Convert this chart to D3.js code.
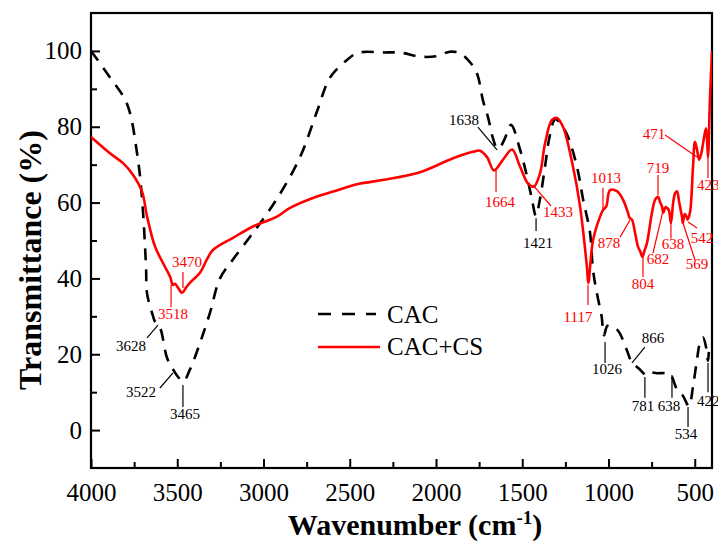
<!DOCTYPE html>
<html>
<head>
<meta charset="utf-8">
<script src="https://cdn.jsdelivr.net/npm/d3@7"></script>
<style>
  body { margin: 0; background: #fff; }
  text { font-family: "Liberation Serif", "Times New Roman", serif; }
</style>
</head>
<body>
<div id="chart"></div>
<script>
// CAC spectrum (black dashed)
const cacWavenumber = [4000, 3890, 3791, 3733, 3704, 3681, 3675, 3640, 3628, 3600, 3559, 3522, 3495, 3465, 3426, 3368, 3310, 3252, 3177, 3061, 2922, 2788, 2690, 2614, 2516, 2452, 2300, 2200, 2093, 2000, 1919, 1861, 1803, 1762, 1728, 1699, 1670, 1646, 1630, 1600, 1565, 1513, 1473, 1443, 1421, 1397, 1368, 1339, 1310, 1290, 1241, 1183, 1148, 1107, 1090, 1067, 1040, 1026, 1005, 950, 893, 866, 818, 781, 760, 719, 661, 638, 603, 568, 534, 510, 487, 470, 452, 435, 423, 415, 400];
const cacT = [100, 93, 86, 73, 61, 43, 36, 30, 28.5, 27, 19, 15.8, 14, 12.8, 16, 23, 31, 40, 45, 52, 61, 72, 84, 93, 97.6, 99.5, 99.6, 99.5, 98.5, 98.6, 99.8, 99.4, 97, 94, 87, 82.6, 77, 74.3, 74.5, 77, 80.5, 74, 67, 60.7, 56.5, 61, 69.5, 78, 82, 81.5, 78, 69.5, 61, 52, 42.3, 36, 30, 25, 27.5, 26.5, 21, 18, 16, 14.5, 15.2, 15, 15, 14.5, 10.7, 9, 6.3, 11.5, 18.6, 23, 24.4, 22, 18.3, 21, 20];

// CAC+CS spectrum (red)
const cacCsWavenumber = [4000, 3890, 3814, 3756, 3704, 3675, 3629, 3582, 3542, 3525, 3513, 3495, 3472, 3450, 3426, 3368, 3328, 3293, 3177, 3061, 2922, 2846, 2690, 2597, 2452, 2300, 2093, 1901, 1786, 1745, 1704, 1664, 1612, 1559, 1513, 1466, 1433, 1397, 1368, 1328, 1299, 1264, 1206, 1165, 1125, 1117, 1090, 1049, 1032, 1013, 991, 951, 916, 887, 878, 864, 846, 829, 815, 804, 790, 777, 748, 730, 713, 700, 690, 682, 670, 661, 650, 638, 625, 614, 603, 590, 574, 569, 558, 545, 542, 528, 510, 499, 487, 475, 462, 452, 435, 428, 423, 412, 400];
const cacCsT = [77.3, 73, 70.4, 67.3, 62.9, 56.3, 48.4, 44, 40.5, 38.3, 38.6, 37.5, 36.2, 37.5, 38.9, 41.5, 45, 47.5, 50.7, 53.7, 56.3, 58.6, 61.6, 62.9, 64.9, 66, 68, 71.7, 73.4, 73.7, 72, 68.5, 71.3, 74, 69.5, 65, 64.2, 67.7, 75.6, 81.8, 82.3, 80, 69.5, 59, 43, 38.8, 50, 56.3, 58, 59, 63.3, 63, 60.8, 57.3, 56, 55.5, 52, 48.4, 47, 45.7, 47.5, 49.3, 57.3, 60.7, 61.5, 60, 59, 57.3, 58.8, 58.6, 58, 54.6, 60, 62.5, 63, 60, 56.3, 54.6, 57, 56, 55.5, 57.3, 69.5, 76, 74, 71.3, 73, 75.6, 79.6, 76, 72, 87, 100];

const seriesNames = ["CAC", "CAC+CS"];
const xTicks = [4000, 3500, 3000, 2500, 2000, 1500, 1000, 500];
const yTicks = [0, 20, 40, 60, 80, 100];

// peak labels: text, leader line [wn, T, wn, T], label point [wn, T], anchor
const cacPeaks = [
    ["1638", [1646, 73.9, 1757, 79.9], [1838, 80.5], "middle"],
    ["1421", [1420, 55.9, 1420, 52.5], [1409, 48.0], "middle"],
    ["3628", [3612, 27.7, 3675, 24.3], [3768, 20.9], "middle"],
    ["3522", [3525, 15.1, 3600, 11.1], [3710, 8.7], "middle"],
    ["3465", [3467, 11.9, 3467, 6.1], [3455, 2.9], "middle"],
    ["1026", [1020, 23.2, 1020, 17.7], [1009, 14.8], "middle"],
    ["866", [864, 17.7, 789, 21.9], [742, 23.0], "middle"],
    ["781", [789, 14.0, 789, 8.5], [800, 5.0], "middle"],
    ["638", [632, 14.5, 632, 8.5], [649, 5.0], "middle"],
    ["534", [539, 6.1, 539, 0.8], [551, -2.3], "middle"],
    ["422", [423, 17.7, 423, 10.0], [487, 6.4], "start"]
];
const cacCsPeaks = [
    ["3470", [3467, 41.7, 3467, 37.5], [3443, 43.0], "middle"],
    ["3518", [3536, 38.3, 3536, 32.4], [3525, 29.3], "middle"],
    ["1664", [1652, 69.1, 1652, 62.8], [1629, 58.8], "middle"],
    ["1433", [1438, 64.6, 1333, 59.1], [1293, 56.2], "middle"],
    ["1117", [1119, 38.3, 1119, 33.0], [1177, 28.5], "middle"],
    ["1013", [1032, 63.9, 1032, 58.1], [1015, 65.2], "middle"],
    ["878", [875, 55.4, 933, 50.9], [997, 48.0], "middle"],
    ["804", [800, 46.7, 800, 40.4], [800, 37.2], "middle"],
    ["719", [713, 67.3, 713, 62.0], [713, 67.8], "middle"],
    ["682", [684, 57.9, 742, 46.7], [713, 43.8], "middle"],
    ["638", [638, 57.1, 638, 50.5], [626, 47.8], "middle"],
    ["569", [568, 54.6, 499, 44.9], [487, 42.5], "middle"],
    ["542", [539, 54.9, 487, 53.3], [458, 49.3], "middle"],
    ["471", [487, 72.0, 672, 77.8], [736, 76.8], "middle"],
    ["423", [423, 75.7, 423, 66.5], [487, 63.3], "start"]
];

const red = "#ff0000";
const margin = {top: 13, right: 6, bottom: 77, left: 91};
const width = 718 - margin.left - margin.right;
const height = 545 - margin.top - margin.bottom;

const svg = d3.select("#chart")
    .append("svg")
    .attr("width", 718)
    .attr("height", 545)
    .append("g")
    .attr("transform", `translate(${margin.left}, ${margin.top})`);

const x = d3.scaleLinear().domain([4000, 400]).range([0, width]);
const y = d3.scaleLinear().domain([-10, 110]).range([height, 0]);

svg.append("clipPath").attr("id", "plotClip")
    .append("rect").attr("width", width).attr("height", height);

// axes with inward ticks
svg.append("g")
    .attr("transform", `translate(0, ${height})`)
    .call(d3.axisBottom(x).tickValues(xTicks).tickFormat(d3.format("d"))
        .tickSize(-9).tickPadding(15).tickSizeOuter(0));
svg.append("g")
    .attr("transform", `translate(0, ${height})`)
    .call(d3.axisBottom(x).tickValues(d3.range(3750, 400, -500)).tickSize(-6).tickFormat("").tickSizeOuter(0));

svg.append("g")
    .call(d3.axisLeft(y).tickValues(yTicks).tickSize(-9).tickPadding(9).tickSizeOuter(0));
svg.append("g")
    .call(d3.axisLeft(y).tickValues([10, 30, 50, 70, 90]).tickSize(-6).tickFormat("").tickSizeOuter(0));

svg.selectAll(".tick line").attr("stroke", "#000").attr("stroke-width", 2);
svg.selectAll(".tick text").attr("fill", "#000").style("font-size", "25px");

// frame
svg.selectAll(".domain").remove();
svg.append("rect")
    .attr("width", width).attr("height", height)
    .attr("fill", "none").attr("stroke", "#000").attr("stroke-width", 2.2);

// curves
const line = d3.line()
    .x(d => x(d[0]))
    .y(d => y(d[1]))
    .curve(d3.curveCatmullRom.alpha(0.5));

const plot = svg.append("g").attr("clip-path", "url(#plotClip)");
plot.append("path")
    .datum(d3.zip(cacWavenumber, cacT))
    .attr("d", line)
    .attr("fill", "none").attr("stroke", "#000")
    .attr("stroke-width", 2.6).attr("stroke-dasharray", "12,9");
plot.append("path")
    .datum(d3.zip(cacCsWavenumber, cacCsT))
    .attr("d", line)
    .attr("fill", "none").attr("stroke", red)
    .attr("stroke-width", 2.6);

// peak labels
function drawPeaks(peaks, color) {
    const g = svg.append("g");
    peaks.forEach(function(p) {
        g.append("line")
            .attr("x1", x(p[1][0])).attr("y1", y(p[1][1]))
            .attr("x2", x(p[1][2])).attr("y2", y(p[1][3]))
            .attr("stroke", color).attr("stroke-width", 1.2);
        g.append("text")
            .attr("x", x(p[2][0])).attr("y", y(p[2][1]))
            .attr("text-anchor", p[3])
            .attr("fill", color)
            .style("font-size", "15px")
            .text(p[0]);
    });
}
drawPeaks(cacPeaks, "#000");
drawPeaks(cacCsPeaks, red);

// legend
const legend = svg.append("g").attr("transform", `translate(${318 - margin.left}, ${314 - margin.top})`);
legend.append("line").attr("x1", 0).attr("x2", 58).attr("y1", 0).attr("y2", 0)
    .attr("stroke", "#000").attr("stroke-width", 2.6).attr("stroke-dasharray", "13,11");
legend.append("line").attr("x1", 0).attr("x2", 62).attr("y1", 33).attr("y2", 33)
    .attr("stroke", red).attr("stroke-width", 2.6);
legend.selectAll("text.leg")
    .data(seriesNames)
    .enter()
    .append("text")
    .attr("x", 69)
    .attr("y", (d, i) => 9 + i * 32)
    .style("font-size", "25px")
    .text(d => d);

// axis titles
svg.append("text")
    .attr("transform", `translate(${30 - margin.left}, ${260 - margin.top}) rotate(-90)`)
    .attr("text-anchor", "middle")
    .attr("dy", "0.35em")
    .style("font-size", "32px")
    .style("font-weight", "bold")
    .text("Transmittance (%)");

const xt = svg.append("text")
    .attr("x", 415 - margin.left)
    .attr("y", 535 - margin.top)
    .attr("text-anchor", "middle")
    .style("font-size", "30px")
    .style("font-weight", "bold");
xt.append("tspan").text("Wavenumber (cm");
xt.append("tspan").attr("dy", -11).style("font-size", "19px").text("-1");
xt.append("tspan").attr("dy", 11).text(")");
</script>
</body>
</html>
